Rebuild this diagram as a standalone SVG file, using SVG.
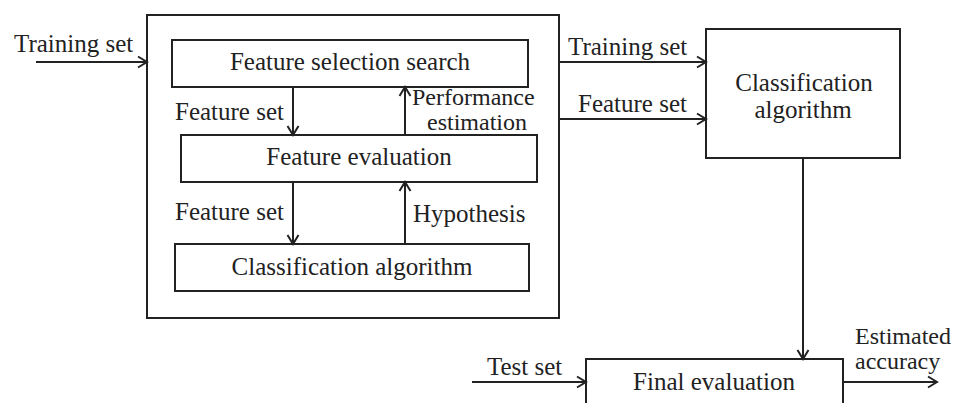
<svg xmlns="http://www.w3.org/2000/svg" width="957" height="403" viewBox="0 0 957 403">
<defs>
<marker id="arr" markerUnits="userSpaceOnUse" markerWidth="12" markerHeight="14" refX="10" refY="6" orient="auto" viewBox="0 0 12 12">
<path d="M1,0.5 L10,6 L1,11.5" fill="none" stroke="#222" stroke-width="2"/>
</marker>
</defs>
<style>
.box{fill:none;stroke:#222;stroke-width:2}
.t{font-family:"Liberation Serif","Times New Roman",serif;font-size:25px;fill:#222}
.s{font-size:24px}
.m{text-anchor:middle}
.c{fill:none;stroke:#222;stroke-width:2;marker-end:url(#arr)}
</style>
<rect width="957" height="403" fill="#fff"/>
<g id="wrapper">
<rect class="box" x="147" y="15" width="412" height="303"/>
</g>
<g id="feature-selection-search">
<rect class="box" x="172" y="40" width="356" height="47"/>
<text class="t m" x="350" y="70">Feature selection search</text>
</g>
<g id="feature-evaluation">
<rect class="box" x="181" y="135" width="356" height="47"/>
<text class="t m" x="359" y="165">Feature evaluation</text>
</g>
<g id="classification-inner">
<rect class="box" x="175" y="244" width="354" height="47"/>
<text class="t m" x="352" y="275">Classification algorithm</text>
</g>
<g id="classification-outer">
<rect class="box" x="706" y="29" width="194" height="129"/>
<text class="t m" x="804" y="91">Classification</text>
<text class="t m" x="803" y="118">algorithm</text>
</g>
<g id="final-evaluation">
<rect class="box" x="586" y="359" width="257" height="52"/>
<text class="t m" x="714" y="390">Final evaluation</text>
</g>
<g id="connectors">
<line class="c" x1="36" y1="62" x2="147" y2="62"/>
<line class="c" x1="293" y1="87" x2="293" y2="135"/>
<line class="c" x1="405" y1="135" x2="405" y2="87"/>
<line class="c" x1="293" y1="182" x2="293" y2="244"/>
<line class="c" x1="405" y1="244" x2="405" y2="182"/>
<line class="c" x1="559" y1="62" x2="706" y2="62"/>
<line class="c" x1="559" y1="119" x2="706" y2="119"/>
<line class="c" x1="803" y1="158" x2="803" y2="359"/>
<line class="c" x1="472" y1="382" x2="586" y2="382"/>
<line class="c" x1="843" y1="382" x2="937" y2="382"/>
</g>
<g id="labels">
<text class="t" x="14" y="52">Training set</text>
<text class="t" x="175" y="120">Feature set</text>
<text class="t s" x="412" y="105">Performance</text>
<text class="t s" x="427" y="130">estimation</text>
<text class="t" x="175" y="220">Feature set</text>
<text class="t" x="413" y="222">Hypothesis</text>
<text class="t" x="568" y="55">Training set</text>
<text class="t" x="578" y="112">Feature set</text>
<text class="t" x="487" y="375">Test set</text>
<text class="t s" x="855" y="344">Estimated</text>
<text class="t s" x="855" y="369">accuracy</text>
</g>
</svg>
